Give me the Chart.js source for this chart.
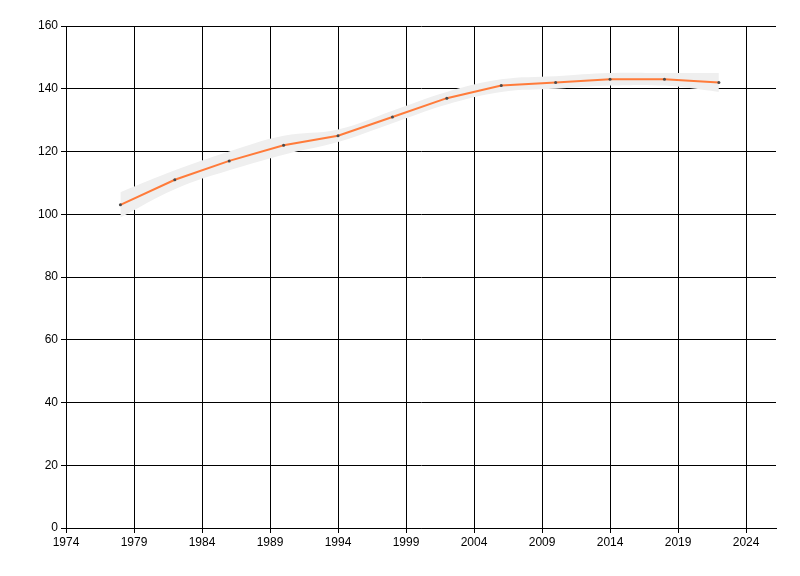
<!DOCTYPE html>
<html>
<head>
<meta charset="utf-8">
<script src="https://cdn.jsdelivr.net/npm/chart.js@4/dist/chart.umd.min.js"></script>
<style>
  html, body { margin: 0; padding: 0; background: #fff; }
  #wrap { width: 800px; height: 576px; }
</style>
</head>
<body>
<div id="wrap"><canvas id="chart" width="800" height="576"></canvas></div>
<script>
// values
const years = [1978, 1982, 1986, 1990, 1994, 1998, 2002, 2006, 2010, 2014, 2018, 2022];
const values = [103, 111, 117, 122, 125, 131, 137, 141, 142, 143, 143, 142];
const bandUpper = [107, 114, 120, 125, 127, 133, 139, 143, 144, 145, 145, 145];
const bandLower = [99, 108, 114, 119, 123, 129, 135, 139, 140, 141, 141, 139];
const xTicks = [1974, 1979, 1984, 1989, 1994, 1999, 2004, 2009, 2014, 2019, 2024];
const yTicks = [0, 20, 40, 60, 80, 100, 120, 140, 160];

Chart.defaults.font.family = "'Liberation Sans', 'DejaVu Sans', sans-serif";
Chart.defaults.font.size = 12;
Chart.defaults.color = '#000';

const toXY = (arr) => arr.map((v, i) => ({ x: years[i], y: v }));

new Chart(document.getElementById('chart'), {
    type: 'line',
    data: {
        datasets: [
            {
                label: 'upper',
                data: toXY(bandUpper),
                borderWidth: 0,
                pointRadius: 0,
                backgroundColor: '#efefef',
                fill: '+1',
                tension: 0.4,
                order: 2
            },
            {
                label: 'lower',
                data: toXY(bandLower),
                borderWidth: 0,
                pointRadius: 0,
                fill: false,
                tension: 0.4,
                order: 3
            },
            {
                label: 'value',
                data: toXY(values),
                borderColor: '#ff7b3a',
                borderWidth: 2,
                pointRadius: 1.5,
                pointBackgroundColor: '#4a4a4a',
                pointBorderColor: '#4a4a4a',
                pointBorderWidth: 0,
                fill: false,
                tension: 0,
                order: 1
            }
        ]
    },
    options: {
        responsive: false,
        animation: false,
        layout: { padding: { top: 26, right: 24, left: 0, bottom: 0 } },
        plugins: {
            legend: { display: false },
            tooltip: { enabled: false }
        },
        scales: {
            x: {
                type: 'linear',
                min: 1974,
                max: 2026.2,
                afterBuildTicks: (axis) => { axis.ticks = xTicks.map(v => ({ value: v })); },
                afterFit: (axis) => { axis.height = 48; },
                grid: { color: '#000', lineWidth: 1, tickLength: 5, drawOnChartArea: true },
                border: { color: '#000', width: 1 },
                ticks: { padding: 2, maxRotation: 0, autoSkip: false, callback: (v) => String(v) }
            },
            y: {
                min: 0,
                max: 160,
                afterBuildTicks: (axis) => { axis.ticks = yTicks.map(v => ({ value: v })); },
                afterFit: (axis) => { axis.width = 66; },
                grid: { color: '#000', lineWidth: 1, tickLength: 5 },
                border: { color: '#000', width: 1 },
                ticks: { padding: 3, callback: (v) => String(v) }
            }
        }
    }
});
</script>
</body>
</html>
